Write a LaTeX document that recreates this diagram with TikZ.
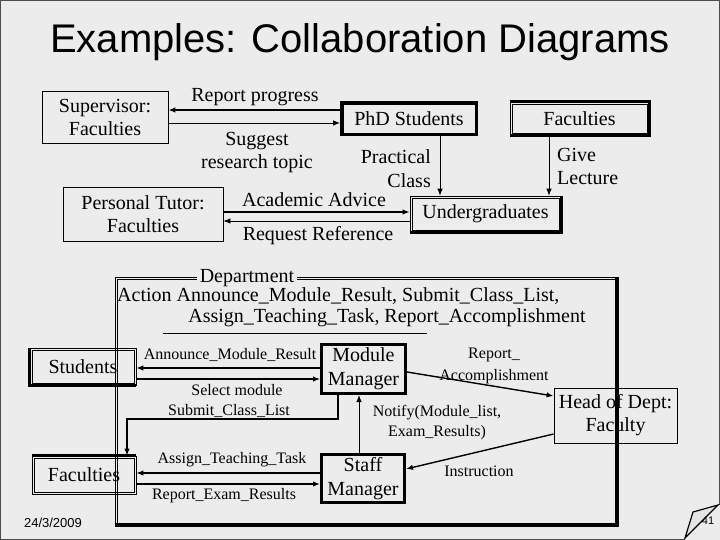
\documentclass[tikz,border=0pt]{standalone}
\usepackage{fontspec}
\setmainfont{Liberation Serif}
\newfontfamily\arialfont{Liberation Sans}
\usetikzlibrary{arrows.meta}
\definecolor{bg}{RGB}{236,236,236}
\begin{document}
\begin{tikzpicture}[x=1pt,y=-1pt,
  every node/.style={inner sep=0pt},
  t20/.style={font=\fontsize{20}{23}\selectfont, align=center},
  t16/.style={font=\fontsize{16}{20}\selectfont, align=center},
  thinbox/.style={draw, line width=0.8pt, t20},
  boldbox/.style={draw, line width=3pt, t20},
  dblbox/.style={draw, line width=0.7pt, t20},
  arr/.style={-{Latex[length=7pt,width=5.5pt]}, line width=1.4pt},
  arrthin/.style={-{Latex[length=7pt,width=5.5pt]}, line width=0.8pt},
]
\fill[bg] (0,0) rectangle (720,540);
\useasboundingbox (0,0) rectangle (720,540);
\draw[line width=1pt, black!70] (685,539) -- (0.5,539) -- (0.5,0.5) -- (719.5,0.5) -- (719.5,505);

\node[font=\arialfont\fontsize{40}{44}\selectfont] (title) at (360,42) {Examples: Collaboration Diagrams};

% top section objects
\node[thinbox, minimum width=126pt, minimum height=52pt] (sup) at (105,117) {Supervisor:\\Faculties};
\node[thinbox, minimum width=160pt, minimum height=54pt] (tutor) at (143,214) {Personal Tutor:\\Faculties};
\node[boldbox, minimum width=135pt, minimum height=32pt] (phd) at (409,118.5) {PhD Students};
\node[dblbox, minimum width=139pt, minimum height=33pt] (factop) at (579.5,118.5) {Faculties};
\node[dblbox, minimum width=151pt, minimum height=36pt] (ug) at (485.5,214) {Undergraduates};

% lower section objects
\node[dblbox, minimum width=106pt, minimum height=37pt] (stud) at (83,366.5) {Students};
\node[dblbox, minimum width=104pt, minimum height=38pt] (faclow) at (84,475) {Faculties};
\node[boldbox, minimum width=84pt, minimum height=49pt, font=\fontsize{20}{24}\selectfont] (mod) at (363.5,369) {Module\\Manager};
\node[boldbox, minimum width=83pt, minimum height=48pt, font=\fontsize{20}{24}\selectfont] (staff) at (363,478.5) {Staff\\Manager};
\node[thinbox, minimum width=123pt, minimum height=55pt] (head) at (615.5,415.5) {Head of Dept:\\Faculty};

% heavy sides and inner lines
\draw[line width=3pt] (factop.north west) -- (factop.north east) -- (factop.south east) -- (factop.south west);
\draw[line width=3pt] (ug.north east) -- (ug.south east) -- (ug.south west);
\draw[line width=3pt] (stud.north west) -- (stud.south west) -- (stud.south east);
\draw[line width=3pt] (faclow.north west) -- (faclow.north east);
\foreach \n in {factop,ug,stud,faclow}
  \draw[line width=0.6pt] ([shift={(2.5pt,-2.5pt)}]\n.north west) rectangle ([shift={(-2.5pt,2.5pt)}]\n.south east);
\draw[line width=0.6pt] ([shift={(3pt,-3pt)}]phd.north west) rectangle ([shift={(-3pt,3pt)}]phd.south east);

% top connectors
\draw[arr] (phd.west |- 0,110) -- (sup.east |- 0,110);
\draw[arrthin] (sup.east |- 0,123) -- (phd.west |- 0,123);
\draw[arrthin] (phd.south -| 440,0) -- (ug.north -| 440,0);
\draw[arrthin] (factop.south -| 549,0) -- (ug.north -| 549,0);
\draw[arr] (tutor.east |- 0,212) -- (ug.west |- 0,212);
\draw[arrthin] (ug.west |- 0,221) -- (tutor.east |- 0,221);

% top labels
\node[t20] (lrp) at (255,97) {Report progress};
\node[t20] (lsr) at (257,153) {Suggest\\research topic};
\node[t20, font=\fontsize{20}{24}\selectfont, align=right, anchor=east] (lpc) at (431,169) {Practical\\Class};
\node[t20, align=left, anchor=west] (lgl) at (557,166) {Give\\Lecture};
\node[t20] (laa) at (314,200) {Academic Advice};
\node[t20] (lrr) at (318,236) {Request Reference};

% lower connectors
\draw[arr] (mod.west |- 0,368) -- (stud.east |- 0,368);
\draw[arr, line width=1.1pt] (stud.east |- 0,379) -- (mod.west |- 0,379);
\draw[arr] (mod.south -| 338,0) -- ++(0,24) -| (faclow.north -| 127,0);
\draw[arr] (staff.west |- 0,473) -- (faclow.east |- 0,473);
\draw[arr] (faclow.east |- 0,484) -- (staff.west |- 0,484);
\draw[arrthin] (staff.north -| 359,0) -- (mod.south -| 359,0);
\draw[arr] (mod.east |- 0,372) -- (head.west |- 0,396);
\draw[arr] (head.west |- 0,434) -- (staff.east |- 0,469);

% lower labels
\node[t16] (l1) at (230,355) {Announce\_Module\_Result};
\node[t16] (l2) at (237,390) {Select module};
\node[t16] (l3) at (229,411) {Submit\_Class\_List};
\node[t16] (l4) at (232,460) {Assign\_Teaching\_Task};
\node[t16] (l5) at (224,496) {Report\_Exam\_Results};
\node[t16] (l6) at (437,423) {Notify(Module\_list,\\Exam\_Results)};
\node[t16, font=\fontsize{16}{22}\selectfont] (l7) at (494,366) {Report\_\\Accomplishment};
\node[t16] (l8) at (479,471) {Instruction};

% department frame
\node[dblbox, minimum width=502pt, minimum height=248pt] (dept) at (366,401) {};
\draw[line width=0.6pt] ([shift={(2.5pt,-2.5pt)}]dept.north west) rectangle ([shift={(-2.5pt,2.5pt)}]dept.south east);
\draw[line width=4pt] (dept.north east) -- (dept.south east) -- (dept.south west);
\node[t20, fill=bg, inner xsep=3pt, inner ysep=1pt] (deptl) at (247,278) {Department};
\node[t20, anchor=west] (act1) at (117,296) {Action Announce\_Module\_Result, Submit\_Class\_List,};
\node[t20] (act2) at (387,318) {Assign\_Teaching\_Task, Report\_Accomplishment};
\draw[line width=0.8pt] (163,333) -- (427,333);

% footer
\node[font=\arialfont\fontsize{13}{15}\selectfont] (date) at (53,523) {24/3/2009};
\draw[line width=1.2pt, fill=gray!20] (685,538) -- (693,512) -- (718,505) -- cycle;
\node[font=\arialfont\fontsize{11}{13}\selectfont] (pg) at (708,521) {41};
\end{tikzpicture}
\end{document}
